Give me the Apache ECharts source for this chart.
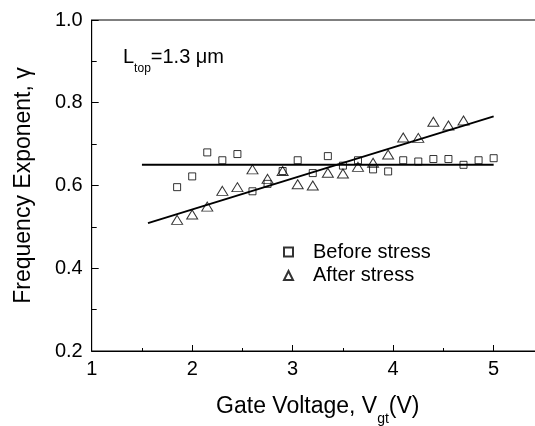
<!DOCTYPE html>
<html><head><meta charset="utf-8">
<script src="https://cdn.jsdelivr.net/npm/echarts@6/dist/echarts.min.js"></script>
<style>html,body{margin:0;padding:0;background:#fff}#c{width:535px;height:426px}</style>
</head><body><div id="c"></div>
<script>
const voltage = [1.85, 2.0, 2.15, 2.3, 2.45, 2.6, 2.75, 2.9, 3.05, 3.2, 3.35, 3.5, 3.65, 3.8, 3.95, 4.1, 4.25, 4.4, 4.55, 4.7, 4.85, 5.0];
const beforeStress = [0.596, 0.622, 0.680, 0.661, 0.676, 0.586, 0.604, 0.635, 0.661, 0.630, 0.671, 0.648, 0.661, 0.639, 0.634, 0.661, 0.658, 0.664, 0.664, 0.650, 0.661, 0.666];
const afterStress = [0.517, 0.530, 0.549, 0.587, 0.596, 0.639, 0.616, 0.635, 0.603, 0.600, 0.631, 0.629, 0.645, 0.655, 0.675, 0.716, 0.715, 0.754, 0.745, 0.757];
const fitBeforeX = [1.5, 5.0];
const fitBeforeY = [0.65, 0.65];
const fitAfterX = [1.56, 5.0];
const fitAfterY = [0.509, 0.767];
const xTicks = [1, 2, 3, 4, 5];
const yTicks = [0.2, 0.4, 0.6, 0.8, 1.0];

const FONT = "'Liberation Sans', Arial, sans-serif";
const pairs = (xs, ys) => ys.map((y, i) => [xs[i], y]);

const chart = echarts.init(document.getElementById('c'), null, {renderer: 'canvas'});
chart.setOption({
  animation: false,
  backgroundColor: '#fff',
  textStyle: {fontFamily: FONT, color: '#000'},
  title: {
    text: '{a|L}{s|top}{a|=1.3 μm}',
    left: 123, top: 47, padding: 0,
    textStyle: {
      fontWeight: 'normal',
      rich: {
        a: {fontSize: 20, fontFamily: FONT, fontWeight: 'normal', color: '#000', verticalAlign: 'top', lineHeight: 22},
        s: {fontSize: 12, fontFamily: FONT, fontWeight: 'normal', color: '#000', verticalAlign: 'top', lineHeight: 12, padding: [16, 0, 0, 0]}
      }
    }
  },
  legend: {
    orient: 'vertical',
    left: 283, top: 242, padding: 0,
    itemWidth: 9, itemHeight: 9, itemGap: 3.5,
    data: ['Before stress', 'After stress'],
    textStyle: {fontSize: 20, fontFamily: FONT, color: '#000', lineHeight: 20, padding: [0, 0, 0, 15]}
  },
  grid: {left: 91.7, top: 20, width: 452.2, bottom: 75, show: true, borderColor: '#000', borderWidth: 1,
    containLabel: false, outerBoundsMode: 'none'},
  xAxis: {
    type: 'value', min: 1, max: 5.5, interval: 1,
    name: '{a|Gate Voltage, V}{s|gt}{a|(V)}',
    nameLocation: 'middle', nameGap: 44,
    nameTextStyle: {
      rich: {
        a: {fontSize: 23, fontFamily: FONT, color: '#000', verticalAlign: 'top', lineHeight: 25},
        s: {fontSize: 14, fontFamily: FONT, color: '#000', verticalAlign: 'top', lineHeight: 14, padding: [17, 0, 0, 0]}
      }
    },
    axisLine: {lineStyle: {color: '#000', width: 1}},
    axisTick: {inside: true, length: 6, lineStyle: {color: '#000'}},
    minorTick: {show: true, splitNumber: 2, length: 3, lineStyle: {color: '#000'}},
    splitLine: {show: false},
    axisLabel: {fontSize: 20, fontFamily: FONT, color: '#000', margin: 8,
      formatter: v => xTicks.includes(v) ? String(v) : ''}
  },
  yAxis: {
    type: 'value', min: 0.2, max: 1.0, interval: 0.2,
    name: 'Frequency Exponent, γ',
    nameLocation: 'middle', nameGap: 57,
    nameTextStyle: {fontSize: 23, fontFamily: FONT, color: '#000'},
    axisLine: {show: true, lineStyle: {color: '#000', width: 1}},
    axisTick: {show: true, inside: true, length: 7, lineStyle: {color: '#000'}},
    minorTick: {show: true, splitNumber: 2, length: 5, lineStyle: {color: '#000'}},
    splitLine: {show: false},
    axisLabel: {fontSize: 20, fontFamily: FONT, color: '#000', margin: 9,
      formatter: v => yTicks.some(t => Math.abs(t - v) < 1e-6) ? v.toFixed(1) : ''}
  },
  series: [
    {name: 'fitBefore', type: 'line', data: pairs(fitBeforeX, fitBeforeY), showSymbol: false,
      lineStyle: {color: '#000', width: 2}, z: 1, silent: true},
    {name: 'fitAfter', type: 'line', data: pairs(fitAfterX, fitAfterY), showSymbol: false,
      lineStyle: {color: '#000', width: 2}, z: 1, silent: true},
    {name: 'Before stress', type: 'scatter', data: pairs(voltage, beforeStress), symbol: 'rect', symbolSize: 7,
      itemStyle: {color: 'rgba(255,255,255,0)', borderColor: '#000', borderWidth: 1}, z: 3},
    {name: 'After stress', type: 'scatter', data: pairs(voltage, afterStress), symbol: 'triangle', symbolSize: [11, 9],
      itemStyle: {color: 'rgba(255,255,255,0)', borderColor: '#000', borderWidth: 1}, z: 3}
  ]
});
</script>
</body></html>
